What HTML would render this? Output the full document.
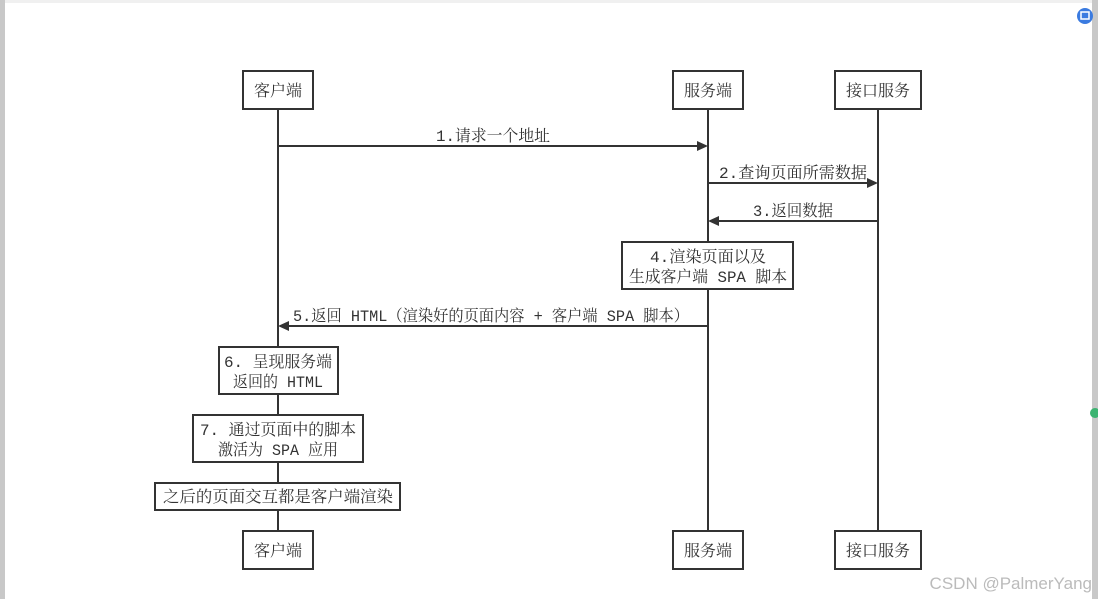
<!DOCTYPE html>
<html><head><meta charset="utf-8"><style>
html,body{margin:0;padding:0;background:#fff;}
svg{display:block;}
text{font-family:"Liberation Mono","Noto Serif CJK SC",serif;font-size:16px;fill:#333;}
</style></head><body>
<svg width="1098" height="599" viewBox="0 0 1098 599" xmlns="http://www.w3.org/2000/svg">
<rect x="0" y="0" width="1098" height="599" fill="#fff"/>
<rect x="0" y="0" width="5" height="599" fill="#c8c8c8"/>
<rect x="1092" y="0" width="6" height="599" fill="#c8c8c8"/>
<rect x="5" y="0" width="1087" height="3" fill="#f0f0f0"/>
<circle cx="1085" cy="16" r="8" fill="#3b7be0"/>
<rect x="1081" y="12" width="8" height="7" fill="none" stroke="#fff" stroke-width="1.5"/>
<circle cx="1095" cy="413" r="5" fill="#3cb371"/>
<g stroke="#333" stroke-width="2" fill="none">
<line x1="278" y1="109" x2="278" y2="531"/>
<line x1="708" y1="109" x2="708" y2="531"/>
<line x1="878" y1="109" x2="878" y2="531"/>
<line x1="278" y1="146" x2="698" y2="146"/>
<line x1="708" y1="183" x2="868" y2="183"/>
<line x1="878" y1="221" x2="718" y2="221"/>
<line x1="708" y1="326" x2="288" y2="326"/>
</g>
<g fill="#333">
<polygon points="708,146 697,141 697,151"/>
<polygon points="878,183 867,178 867,188"/>
<polygon points="708,221 719,216 719,226"/>
<polygon points="278,326 289,321 289,331"/>
</g>
<g stroke="#333" stroke-width="2" fill="#fff">
<rect x="243" y="71" width="70" height="38"/>
<rect x="673" y="71" width="70" height="38"/>
<rect x="835" y="71" width="86" height="38"/>
<rect x="243" y="531" width="70" height="38"/>
<rect x="673" y="531" width="70" height="38"/>
<rect x="835" y="531" width="86" height="38"/>
<rect x="622" y="242" width="171" height="47"/>
<rect x="219" y="347" width="119" height="47"/>
<rect x="193" y="415" width="170" height="47"/>
<rect x="155" y="483" width="245" height="27"/>
</g>
<g text-anchor="middle">
<text x="278" y="96">客户端</text>
<text x="708" y="96">服务端</text>
<text x="878" y="96">接口服务</text>
<text x="278" y="556">客户端</text>
<text x="708" y="556">服务端</text>
<text x="878" y="556">接口服务</text>
<text x="493" y="141" textLength="114" lengthAdjust="spacingAndGlyphs">1.请求一个地址</text>
<text x="793" y="178" textLength="148" lengthAdjust="spacingAndGlyphs">2.查询页面所需数据</text>
<text x="793" y="216" textLength="80" lengthAdjust="spacingAndGlyphs">3.返回数据</text>
<text x="708" y="262" textLength="116" lengthAdjust="spacingAndGlyphs">4.渲染页面以及</text>
<text x="708" y="282" textLength="158" lengthAdjust="spacingAndGlyphs">生成客户端 SPA 脚本</text>
<text x="491" y="321" textLength="396" lengthAdjust="spacingAndGlyphs">5.返回 HTML（渲染好的页面内容 + 客户端 SPA 脚本）</text>
<text x="278" y="367" textLength="108" lengthAdjust="spacingAndGlyphs">6. 呈现服务端</text>
<text x="278" y="387" textLength="90" lengthAdjust="spacingAndGlyphs">返回的 HTML</text>
<text x="278" y="435" textLength="156" lengthAdjust="spacingAndGlyphs">7. 通过页面中的脚本</text>
<text x="278" y="455" textLength="120" lengthAdjust="spacingAndGlyphs">激活为 SPA 应用</text>
<text x="278" y="502" textLength="230" lengthAdjust="spacingAndGlyphs">之后的页面交互都是客户端渲染</text>
</g>
<text x="1092" y="589" text-anchor="end" style="font-family:'Liberation Sans',sans-serif;font-size:17px;fill:#bbb">CSDN @PalmerYang</text>
</svg>
</body></html>
